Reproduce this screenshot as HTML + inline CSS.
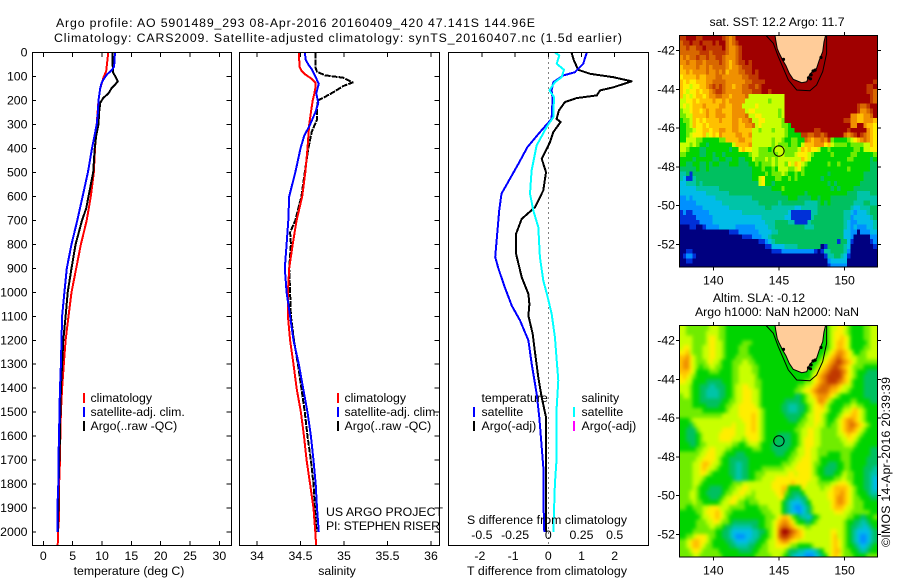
<!DOCTYPE html>
<html>
<head>
<meta charset="utf-8">
<style>
html,body{margin:0;padding:0;background:#fff}
svg{display:block}
text{font-family:"Liberation Sans",sans-serif;font-size:12.3px;fill:#000}
</style>
</head>
<body>
<svg id="chart" xmlns="http://www.w3.org/2000/svg" width="900" height="580" viewBox="0 0 900 580">
<defs>
<clipPath id="clip-top"><rect x="679.5" y="35.5" width="198" height="231.5"/></clipPath>
<clipPath id="clip-bottom"><rect x="679.5" y="325.5" width="198" height="231.5"/></clipPath>
<filter id="soften" x="-5%" y="-5%" width="110%" height="110%" color-interpolation-filters="sRGB"><feGaussianBlur stdDeviation="1.8"/></filter>
</defs>
<g id="panels"></g>

<text x="56" y="27" textLength="479">Argo profile: AO 5901489_293 08-Apr-2016 20160409_420 47.141S 144.96E</text>
<text x="54" y="42" textLength="568">Climatology: CARS2009. Satellite-adjusted climatology: synTS_20160407.nc (1.5d earlier)</text>

<text x="129" y="575" text-anchor="middle">temperature (deg C)</text>
<text x="337" y="575" text-anchor="middle">salinity</text>
<text x="547" y="575" text-anchor="middle" textLength="160">T difference from climatology</text>
<text x="547" y="524" text-anchor="middle" textLength="160">S difference from climatology</text>

<g>
<rect x="83" y="393" width="2" height="10" fill="#f00"/>
<rect x="83" y="407" width="2" height="10" fill="#00f"/>
<rect x="83" y="421" width="2" height="10" fill="#000"/>
<text x="90.5" y="402">climatology</text>
<text x="90.5" y="416">satellite-adj. clim.</text>
<text x="90.5" y="430">Argo(..raw -QC)</text>
</g>
<g>
<rect x="337" y="393" width="2" height="10" fill="#f00"/>
<rect x="337" y="407" width="2" height="10" fill="#00f"/>
<rect x="337" y="421" width="2" height="10" fill="#000"/>
<text x="344.5" y="402">climatology</text>
<text x="344.5" y="416">satellite-adj. clim.</text>
<text x="344.5" y="430">Argo(..raw -QC)</text>
<text x="326" y="516" textLength="117">US ARGO PROJECT</text>
<text x="326" y="530" textLength="114">PI: STEPHEN RISER</text>
</g>
<g>
<text x="481.5" y="402">temperature</text>
<rect x="473" y="407" width="2" height="10" fill="#00f"/>
<rect x="473" y="421" width="2" height="10" fill="#000"/>
<text x="481.5" y="416">satellite</text>
<text x="481.5" y="430">Argo(-adj)</text>
<text x="581.5" y="402">salinity</text>
<rect x="573" y="407" width="2" height="10" fill="#0ff"/>
<rect x="573" y="421" width="2" height="10" fill="#f0f"/>
<text x="581.5" y="416">satellite</text>
<text x="581.5" y="430">Argo(-adj)</text>
</g>

<text x="777" y="26" text-anchor="middle">sat. SST: 12.2 Argo: 11.7</text>
<text x="759" y="302" text-anchor="middle">Altim. SLA: -0.12</text>
<text x="777" y="316" text-anchor="middle">Argo h1000: NaN h2000: NaN</text>
<text transform="translate(890,547) rotate(-90)" textLength="170">©IMOS 14-Apr-2016 20:39:39</text>
</svg>

<script>
/* axis tick values */
const depthTicks = [0,100,200,300,400,500,600,700,800,900,1000,1100,1200,1300,1400,1500,1600,1700,1800,1900,2000];
const tempTicks = [0,5,10,15,20,25,30];
const salTicks = [34,34.5,35,35.5,36];
const tDiffTicks = [-2,-1,0,1,2];
const sDiffTicks = [-0.5,-0.25,0,0.25,0.5];
const lonTicks = [140,145,150];
const latTicks = [-42,-44,-46,-48,-50,-52];

/* temperature profiles */
const climTempDepth = [0,80,100,150,200,300,400,500,600,700,800,900,1000,1100,1200,1300,1400,1500,1600,1700,1800,1950,2000,2058];
const climTemp = [11.08,10.7,10.3,9.7,9.4,9.1,8.8,8.6,8.1,7.4,6.4,5.6,4.8,4.3,3.8,3.5,3.2,3.0,2.9,2.85,2.7,2.65,2.5,2.45];
const satTempDepth = [0,30,60,75,90,110,130,150,200,250,300,350,400,500,600,700,800,900,1000,1100,1200,1300,1400,1500,1600,1700,1800,1900,2000];
const satTemp = [12.2,12.15,12.05,11.6,10.9,10.3,9.9,9.7,9.4,9.3,9.1,8.7,8.3,7.6,6.7,5.8,4.8,4.0,3.6,3.2,3.1,3.0,2.85,2.75,2.7,2.55,2.55,2.4,2.4];
const argoTempDepth = [0,50,85,100,120,135,150,170,190,210,250,300,350,400,500,600,650,700,800,900,1000,1100,1200,1300,1400,1500,1600,1800,2000];
const argoTemp = [11.8,11.8,11.9,12.3,12.7,12.2,11.6,11.1,10.2,9.7,9.5,9.4,9,8.75,8.5,7.7,7.3,6.6,5.5,4.8,4.15,3.8,3.4,3.2,3.0,2.9,2.85,2.6,2.5];

/* salinity profiles */
const climSalDepth = [0,60,75,90,110,125,140,170,200,250,300,400,500,600,700,800,900,1000,1100,1200,1300,1400,1500,1600,1700,1800,1900,2000,2058];
const climSal = [34.48,34.49,34.51,34.55,34.63,34.67,34.675,34.66,34.64,34.62,34.60,34.58,34.555,34.52,34.455,34.41,34.37,34.355,34.355,34.38,34.42,34.455,34.505,34.54,34.57,34.61,34.65,34.67,34.68];
const satSalDepth = [0,30,50,70,100,130,170,210,250,300,350,400,500,600,700,800,900,1000,1100,1200,1300,1400,1500,1600,1700,1800,1900,2000];
const satSal = [34.55,34.56,34.59,34.63,34.67,34.71,34.68,34.705,34.67,34.61,34.54,34.50,34.44,34.37,34.36,34.34,34.32,34.34,34.38,34.42,34.48,34.53,34.58,34.62,34.65,34.675,34.69,34.71];
const argoSalDepth = [0,60,80,95,105,125,140,165,185,200,230,280,330,400,500,600,700,750,800,900,1000,1100,1200,1300,1400,1500,1600,1700,1800,1900,2000];
const argoSal = [34.67,34.67,34.69,34.78,34.99,35.10,34.99,34.88,34.78,34.70,34.69,34.69,34.63,34.59,34.55,34.51,34.44,34.38,34.39,34.37,34.38,34.39,34.425,34.47,34.51,34.55,34.58,34.62,34.65,34.665,34.685];

/* difference profiles */
const satDiffTDepth = [0,47,82,96,124,158,193,277,332,395,464,589,659,756,853,902,979,1056,1118,1201,1299,1424,1521,1646,1729,1854,2000];
const satDiffT = [1.16,1.05,0.8,0.45,0.15,0.1,0.13,0.1,-0.25,-0.63,-0.9,-1.41,-1.48,-1.54,-1.6,-1.5,-1.31,-1.1,-0.85,-0.6,-0.5,-0.35,-0.27,-0.2,-0.15,-0.15,-0.12];
const argoDiffTDepth = [0,33,72,89,103,120,145,158,179,190,207,242,277,290,332,374,443,499,575,645,694,756,840,937,1007,1049,1097,1174,1250,1355,1438,1521,1688,2000];
const argoDiffT = [0.7,0.77,0.9,1.26,1.96,2.51,1.96,1.56,1.46,0.85,0.5,0.32,0.25,0.37,0.15,0.05,-0.2,-0.07,-0.15,-0.4,-0.8,-0.97,-0.97,-0.8,-0.6,-0.57,-0.6,-0.47,-0.4,-0.3,-0.2,-0.07,-0.07,-0.07];
const satDiffSDepth = [0,12,47,72,103,124,158,186,270,311,388,492,589,659,728,853,951,1012,1089,1186,1283,1367,1479,1688,1799,2000];
const satDiffS = [0.05,0.083,0.063,0.118,0.1,0.05,0.008,0.043,0.038,-0.013,-0.088,-0.126,-0.138,-0.113,-0.075,-0.063,-0.038,-0.008,0.025,0.05,0.063,0.075,0.063,0.063,0.05,0.038];

/* SST map: colour-class per 0.25 degree cell, row 0 at the north edge */
const sstRows = [
"ddeeeddeee eeedcbceee eeeeeeeeee eeeeeeeeee eeeeeeeeee eeeeeeeeee",
"cddeddeddd edeecbcdee eeeeeeeeee eeeeeeeeee eeeeeeeeee eeeeeeeeee",
"ccdccddedd dddecbbcde eeeeeeeeee eeeeeeeeee eeeeeeeeee eeeeeeeeee",
"ccccccdddc ddddcbbcde eeeeeeeeee eeeeeeeeee eeeeeeeeee eeeeeeeeee",
"bcbccdccdc cddcbbbcde eeeeeeeeee eeeeeeeeee eeeeeeeeee eeeeeeeeee",
"bbcbbccbcc ccdcbabcdd edeeeeeeee eeeeeeeeee eeeeeeeeee eeeeeeeeee",
"abbbbcbbcb ccccbabbcd ddeeeeeeee eeeeeeeeee eeeeeeeeee eeeeeeeeee",
"aababbbbcb bcbcabbbcc ddedeeeeee eeeeeeeeee eeeeeeeeee eeeeeeeeee",
"9aaaabaabb bccbbbbbbc cdddeeeeee eeeeeeeeee eeeeeeeeee eeeeeeeeee",
"a9a99aaabb ccccbbbbbb ccddddeeee eeeeeeeeee eeeeeeeeee eeeeeeeeed",
"a99899aabc dcdcbbabbc cddcdeeeee eeeeeeeeee eeeeeeeeee eeeeeeedde",
"a9899a9aab cddcbbbbbc ccdddeedee eeeeeeeeee eeeeeeeeee eeeeeeeddc",
"a8989aa9ab bccbbabbbb c888888888 88eeeeeeee eeeeeeeeee eeeeeeeedc",
"8899a9aaaa baababbbbb 8888888788 88eeeeeeee eeeeeeeeee eeeeeeeedc",
"8989aaabaa aabbaabbb8 8889888888 88eeeeeeee eeeeeeeeee eeeedccdee",
"7889aa9aba abbaaabbbb 8998888888 78eeeeeeee eeeeeeeeee eeeedbbcde",
"7788aaaaba abbbaabbbb c889988888 78eeeeeeee eeeeeeeeee eebbaabbce",
"6778a9a9aa aabaaabbab bc88998888 87eeeeeeee eeeeeeeeee ddbbaabbba",
"6678a99a9a aaaaaabbaa bbc8988888 8776eeeeee eeeeeeeeee eebbeebaa9",
"6677899aa9 aabbaabbaa aa88788878 88766eeeee eddeeeeeee edeeeeeba9",
"6678999a89 a9baaaabba ab88888888 8876666ddc cddcdeeeee cbcdedcba9",
"6688877666 6677aaaabb aa88888878 87667766cb abbcbd7666 6789abcba9",
"8887876656 6666668aaa ab88888878 77767768aa abbb9a8777 76777788a9",
"8876665566 666665669a 9988777678 8877778a9a 9986676666 6667768899",
"7766665566 5665666666 6788777777 8877789998 7666667666 6677666667",
"6666566666 5566556655 6687778787 8888888a98 6666666666 6776666656",
"6655665565 6655566655 5667677787 88798a9876 6666676676 6666666655",
"5555565565 5555555555 5566676676 8887789766 6666666666 6766666655",
"4451555555 5555555555 5566667677 7876676766 6666656666 6666665555",
"4311455555 5555555555 5566896667 7667676666 6665666666 6666665555",
"3344454555 5555555555 5555896656 6666666666 6666656566 6666655555",
"3333344444 4455555555 5555555566 6766666666 6666665656 6665555555",
"3333333344 4444455555 5555555555 5666666656 6666666666 6555444455",
"2232333333 3444444444 4455555555 5556665555 6656665555 5555444444",
"2222233333 3334444444 4444555555 4555555544 4456565555 5554445544",
"2222222333 3333344444 4444445544 4444433444 4455555555 5543344455",
"1211222223 3333333334 4444444444 4443111111 4455555555 4432333455",
"1111122222 3333333333 3333344444 4433111111 4555555555 4423333345",
"1111112222 3333333333 3333334445 5554411114 5555555555 4322333334",
"0001100122 2233333222 2223333445 5555555544 4555555555 4323222334",
"0000000000 0000011122 2222333344 5555555555 5555555555 3322022233",
"0000000000 0000000001 1122233455 5555555555 5555555555 3320000022",
"0000000000 0000000000 0000112345 5555555555 5555555515 5310000012",
"0000000000 0000000000 0000001133 3344445555 5550155555 4300000001",
"0011000000 0000000000 0000000011 1222222222 2101445555 4200000000",
"0122100000 0000000000 0000000000 0000000000 0000144554 3100000000",
"0011000000 0000000000 0000000000 0000000000 0000023333 3000000000",
"0000000000 0000000000 0000000000 0000000000 0000012222 2000000000"
];

/* altimetry SLA map: colour-class per 0.25 degree cell, row 0 at the north edge */
const slaRows = [
"8877777778 8877666666 6666666666 6666666666 6666678899 8766667788",
"8877777788 8877666666 6666666666 6666666666 6666678999 8766667788",
"8888777789 9877666666 6666666666 6666666666 666667899a 9866667788",
"8888777789 9887666667 7766666666 6666666666 66666789aa 9866666788",
"8998777889 9887666677 7666666666 6666666666 66666789aa 9866667788",
"99a8777889 9887666677 7666666666 6666666666 6666789abb a986677888",
"aab9877889 9887666777 7766666666 6666666666 666789abcb a988777888",
"abb9877789 8876667778 8776666666 6666666666 66789abcdc ba98777777",
"abb9876778 8776667788 8877666666 6666666666 6789abcdcb a987776666",
"aaa9866667 7766667788 8877666666 6666666666 789abcdddc b987666555",
"9a98766666 6666667788 8887666666 6666666666 89abcddddc a987665555",
"9988666655 5556667788 8887766666 6666666677 89abcdddcb a976665555",
"8887665554 4555667889 9887766666 6666667788 9abcccbba9 8876665555",
"8887665544 4455667889 9988766666 6666677899 abcccbaa98 8766665555",
"7887665544 4455667889 9988766666 6666655678 9abbba9876 6666665555",
"7777665555 5556677889 9988766666 6655555678 89bba87666 6677666655",
"7777666655 5566778899 9998766666 6554445567 899a876666 7788776666",
"7777777666 6666788899 9999876666 6554445567 8999876667 889a987666",
"7777777777 7778888899 99a9876666 6655555678 8998766678 99aa987666",
"6667888888 8888888889 99a9876666 6665556778 8998766789 abba987666",
"6665788888 8888889888 99a9876666 6666667788 8988767789 abcba98766",
"6655578888 8889999888 99a9876666 6666677889 9887777789 abba987666",
"6655567888 8899999888 9999876666 5555667889 9887777788 9a99876666",
"6655567888 8899998887 8999876665 5555667899 9887777778 8998766666",
"6665567788 8888887766 7888766655 5555667899 9887777777 8887666666",
"6666677889 9888776666 6677766655 5556678899 8877777777 7776666655",
"7777778899 9887666555 6666666665 5566778899 8877766667 7766666655",
"7777788999 9876655555 5666666666 6667788999 8876666667 7766666555",
"7777889aa9 8876655445 5666666666 6777889999 8776655566 7766666555",
"7777889a98 8766655445 5666677777 7788899999 8766555566 7766665554",
"7777889987 6666655445 5667778888 8889989999 8766555667 8776665544",
"7777888766 6666665445 5667788889 9999999999 8876666778 8776665543",
"7777887666 6666667778 8888888899 9999a99998 8877778899 9876665543",
"7777876665 5556677889 9888888899 9aa6666988 8887889aaa a987665543",
"7778876655 5556778899 8878888889 9a76555688 8888899aab a987666544",
"7778876665 5567889988 7778888888 9965544558 8888899abb a987766655",
"7777877666 6678899877 6777888888 8654333456 8888889abb a987776666",
"7766777889 9988877777 6666777888 8654322345 7888889aaa 9887776666",
"6666677899 9a98776666 6666677788 8654332345 7888888999 8877777766",
"6666667889 9a98766666 6666667778 9aa9765443 5678888888 8776655667",
"6666677788 9987765555 5555667789 abba976655 6788888888 7665544566",
"6666677778 8776554444 4455667789 bccba98877 8888888888 7655443456",
"6666777777 7665543333 3344556789 ceedcba988 8888889988 7654333345",
"6677899987 7665543222 3344566789 cddcbaa988 8888889a88 7654322345",
"7789aa9987 6666554333 3445667889 abba998888 8888889a98 7654322345",
"7789aa9877 6666655444 4556677889 9998776666 7888889a98 7665433456",
"7778998777 7766666655 5566777888 8875554433 3456889aa8 7766544566",
"7777887777 7776666666 6667777788 8765433322 2345689a98 7776666777"
];

/* Tasmania coastline and shelf contour, longitude / latitude */
const coastLon = [144.70,144.75,144.87,145.03,145.28,145.53,145.79,146.09,146.73,147.11,147.36,147.87,148.07,148.33,148.43,148.55];
const coastLat = [-41.21,-41.45,-41.88,-42.14,-42.48,-42.77,-43.17,-43.48,-43.65,-43.60,-43.20,-42.91,-42.48,-42.05,-41.54,-41.21];
const contourLon = [144.01,144.57,144.95,145.71,146.35,147.36,147.87,148.33,148.63,148.63];
const contourLat = [-41.21,-41.62,-42.31,-43.51,-44.03,-44.07,-43.77,-43.08,-42.14,-41.21];
const islandLon = [147.25,147.45,147.6,147.75,147.4,145.35,148.2];
const islandLat = [-43.4,-43.25,-43.05,-43.0,-43.45,-42.45,-42.35];
const profileLon = [145];
const profileLat = [-47.18];

/* colour scale (class -> colour), not data */
const palette = {'0':'#000080','1':'#0030d8','2':'#0090ff','3':'#00bce8','4':'#00c4a8','5':'#00c060','6':'#00d400','7':'#70ec00','8':'#c8ff00','9':'#ffee00','a':'#ffc000','b':'#f09000','c':'#d86800','d':'#c03800','e':'#a00000'};

const root = document.getElementById('panels');
const NS = 'http://www.w3.org/2000/svg';
function make(tag, attrs, parent){
  const el = document.createElementNS(NS, tag);
  for (const k in attrs) el.setAttribute(k, attrs[k]);
  (parent || root).appendChild(el);
  return el;
}

/* axis functions */
const yDepth = d => 52.5 + 0.2398 * d;
const xTemp = t => 43.3 + 5.87 * t;
const xSal = s => 257 + 87 * (s - 34);
const xTD = t => 548.3 + 33.2 * t;
const xSD = s => 548.3 + 132.8 * s;
const xLon = lon => 713.3 + 13.13 * (lon - 140);
const yLatTop = lat => 50.7 + 19.37 * (-42 - lat);
const yLatBottom = lat => 340.7 + 19.37 * (-42 - lat);

function addLine(x1,y1,x2,y2,name,parent){
  const el = make('line',{x1:x1,y1:y1,x2:x2,y2:y2,stroke:'#000','stroke-width':1,'shape-rendering':'crispEdges'},parent);
  
  
  return el;
}
function addLabel(x,y,str,anchor,name,parent){
  const el = make('text',{x:x,y:y,'text-anchor':anchor},parent);
  el.textContent = str;
  
  
  return el;
}
function addFrame(x,y,w,h,name,parent){
  const el = make('rect',{x:x,y:y,width:w,height:h,fill:'none',stroke:'#000','stroke-width':1,'shape-rendering':'crispEdges'},parent);
  
  
  return el;
}
function addProfile(depths,values,xFn,colour,name,width,dash,parent){
  const pts = depths.map((d,i)=>xFn(values[i]).toFixed(1)+','+yDepth(d).toFixed(1)).join(' ');
  const attrs = {points:pts,fill:'none',stroke:colour,'stroke-width':width,'shape-rendering':'crispEdges','stroke-linejoin':'round'};
  if (dash) attrs['stroke-dasharray'] = dash;
  const el = make('polyline',attrs,parent);
  
  
  return el;
}

const L=[32.5,239.5,448.5], R=[231.5,439.5,648.5], T=52.5, B=545.5;

/* Panel 1: temperature */
const p1 = make('g',{});


addProfile(climTempDepth,climTemp,xTemp,'#f00','temperature-climatology-line',2,null,p1);
addProfile(argoTempDepth,argoTemp,xTemp,'#000','temperature-argo-line',2,null,p1);
addProfile(satTempDepth,satTemp,xTemp,'#00f','temperature-satellite-line',2,null,p1);
addFrame(L[0],T,R[0]-L[0],B-T,'temperature-axes-frame',p1);
depthTicks.forEach(d=>{
  addLine(L[0],yDepth(d),L[0]+3.5,yDepth(d),'depth-tick-left',p1);
  addLine(R[0]-5,yDepth(d),R[0],yDepth(d),'depth-tick-right',p1);
  addLabel(27.5,yDepth(d)+4,String(d),'end','depth-tick-label',p1);
});
tempTicks.forEach(t=>{
  addLine(xTemp(t),T,xTemp(t),T+4.5,'temperature-tick-top',p1);
  addLine(xTemp(t),B-4.5,xTemp(t),B,'temperature-tick-bottom',p1);
  addLabel(xTemp(t),560,String(t),'middle','temperature-tick-label',p1);
});

/* Panel 2: salinity */
const p2 = make('g',{});


addProfile(argoSalDepth,argoSal,xSal,'#000','salinity-argo-line',2,'6 1',p2);
addProfile(climSalDepth,climSal,xSal,'#f00','salinity-climatology-line',2,null,p2);
addProfile(satSalDepth,satSal,xSal,'#00f','salinity-satellite-line',2,null,p2);
addFrame(L[1],T,R[1]-L[1],B-T,'salinity-axes-frame',p2);
depthTicks.forEach(d=>{
  addLine(R[1]-5,yDepth(d),R[1],yDepth(d),'depth-tick-right',p2);
});
salTicks.forEach(s=>{
  addLine(xSal(s),T,xSal(s),T+4.5,'salinity-tick-top',p2);
  addLine(xSal(s),B-4.5,xSal(s),B,'salinity-tick-bottom',p2);
  addLabel(xSal(s),560,String(s),'middle','salinity-tick-label',p2);
});

/* Panel 3: differences */
const p3 = make('g',{});


const zero = make('line',{x1:xTD(0),y1:T,x2:xTD(0),y2:B,stroke:'#000','stroke-width':1,'stroke-dasharray':'1 4','shape-rendering':'crispEdges'},p3);


addProfile(argoDiffTDepth,argoDiffT,xTD,'#000','t-difference-argo-line',2,null,p3);
addProfile(satDiffTDepth,satDiffT,xTD,'#00f','t-difference-satellite-line',2,null,p3);
addProfile(satDiffSDepth,satDiffS,xSD,'#0ff','s-difference-satellite-line',2,null,p3);
addFrame(L[2],T,R[2]-L[2],B-T,'difference-axes-frame',p3);
tDiffTicks.forEach(t=>{
  addLine(xTD(t),T,xTD(t),T+4.5,'t-difference-tick-top',p3);
  addLabel(xTD(t)-(t<0?2:0),560,String(t),'middle','t-difference-tick-label',p3);
});
sDiffTicks.forEach(s=>{
  addLabel(xSD(s),539,String(s),'middle','s-difference-tick-label',p3);
});

/* Maps */
function drawMap(rows,yLat,clipId,mapName,frameTop,frameH,soft){
  const g = make('g',{});
  
  
  const clipBox = make('g',{'clip-path':'url(#'+clipId+')'},g);
  
  
  const cellAttrs = {'shape-rendering':'crispEdges'};
  if (soft) cellAttrs.filter = 'url(#soften)';
  const cells = make('g',cellAttrs,clipBox);
  
  
  const grid = rows.map(s=>s.replace(/ /g,''));
  const pad = soft ? 3 : 0;
  for (let r=-pad;r<grid.length+pad;r++){
    const row = grid[Math.max(0,Math.min(grid.length-1,r))];
    for (let c=-pad;c<row.length+pad;c++){
      const cls = row[Math.max(0,Math.min(row.length-1,c))];
      const lon = 137.43 + 0.25*c;
      const lat = -41.23 - 0.25*r;
      const x1 = xLon(lon), x2 = xLon(lon+0.25);
      const y1 = yLat(lat), y2 = yLat(lat-0.25);
      const rect = make('rect',{x:x1.toFixed(2),y:y1.toFixed(2),width:(x2-x1+0.4).toFixed(2),height:(y2-y1+0.4).toFixed(2),fill:palette[cls]},cells);
      
      
    }
  }
  const geo = make('g',{'clip-path':'url(#'+clipId+')'},g);
  
  
  const contour = make('polyline',{points:contourLon.map((v,i)=>xLon(v).toFixed(1)+','+yLat(contourLat[i]).toFixed(1)).join(' '),fill:'none',stroke:'#000','stroke-width':1},geo);
  
  
  const land = make('polygon',{points:coastLon.map((v,i)=>xLon(v).toFixed(1)+','+yLat(coastLat[i]).toFixed(1)).join(' '),fill:'#ffcc99',stroke:'#000','stroke-width':1},geo);
  
  
  islandLon.forEach((v,i)=>{
    const isl = make('circle',{cx:xLon(v).toFixed(1),cy:yLat(islandLat[i]).toFixed(1),r:1.6,fill:'#000'},geo);
    
    
  });
  profileLon.forEach((v,i)=>{
    const m = make('circle',{cx:xLon(v).toFixed(1),cy:yLat(profileLat[i]).toFixed(1),r:5.2,fill:'none',stroke:'#000','stroke-width':1},geo);
    
    
  });
  addFrame(679.5,frameTop,198,frameH,mapName+'-frame',g);
  lonTicks.forEach(lon=>{
    addLine(xLon(lon),frameTop-3.5,xLon(lon),frameTop,'longitude-tick-top',g);
    addLine(xLon(lon),frameTop+frameH,xLon(lon),frameTop+frameH+3.5,'longitude-tick-bottom',g);
    addLabel(xLon(lon),frameTop+frameH+17.5,String(lon),'middle','longitude-tick-label',g);
  });
  latTicks.forEach(lat=>{
    addLine(676,yLat(lat),679.5,yLat(lat),'latitude-tick-left',g);
    addLine(877.5,yLat(lat),881,yLat(lat),'latitude-tick-right',g);
    addLabel(675,yLat(lat)+4,String(lat),'end','latitude-tick-label',g);
  });
}
drawMap(sstRows,yLatTop,'clip-top','sst-map',35.5,231.5,false);
drawMap(slaRows,yLatBottom,'clip-bottom','sla-map',325.5,231.5,true);
</script>
</body>
</html>
